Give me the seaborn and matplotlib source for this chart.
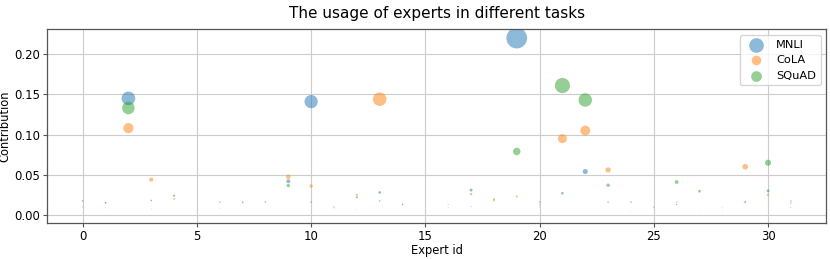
import numpy as np
import matplotlib
matplotlib.use("Agg")
import matplotlib.pyplot as plt
import seaborn as sns

experts = np.arange(32)
tasks = ["MNLI", "CoLA", "SQuAD"]

mnli = np.array([0.010, 0.015, 0.145, 0.0075, 0.005, 0.006, 0.002, 0.016,
                 0.016, 0.042, 0.141, 0.010, 0.022, 0.028, 0.013, 0.002,
                 0.003, 0.031, 0.005, 0.220, 0.016, 0.027, 0.054, 0.016,
                 0.016, 0.010, 0.013, 0.002, 0.006, 0.016, 0.030, 0.015])
cola = np.array([0.003, 0.009, 0.108, 0.044, 0.020, 0.002, 0.008, 0.0155,
                 0.001, 0.0475, 0.036, 0.0085, 0.025, 0.144, 0.002, 0.006,
                 0.013, 0.026, 0.018, 0.023, 0.013, 0.095, 0.105, 0.056,
                 0.004, 0.002, 0.016, 0.006, 0.009, 0.060, 0.025, 0.0175])
squad = np.array([0.0175, 0.0155, 0.133, 0.018, 0.024, 0.001, 0.016, 0.002,
                  0.001, 0.0366, 0.016, 0.010, 0.007, 0.0175, 0.0135, 0.002,
                  0.009, 0.0104, 0.0196, 0.079, 0.010, 0.161, 0.143, 0.037,
                  0.005, 0.009, 0.041, 0.0296, 0.003, 0.016, 0.065, 0.0096])

plt.rcParams["font.family"] = ["DejaVu Sans"]

fig = plt.figure(figsize=(8.3, 2.59), dpi=100)
ax = fig.add_axes([0.057, 0.139, 0.9385, 0.748])

for name, vals in zip(tasks, [mnli, cola, squad]):
    sns.scatterplot(x=experts, y=vals, s=4600 * vals ** 2, alpha=0.5,
                    linewidth=0, label=name, ax=ax)

ax.set_axisbelow(True)
ax.grid(True, color="#cccccc", linewidth=0.8)
for sp in ax.spines.values():
    sp.set_color("#555555")
    sp.set_linewidth(0.9)
ax.tick_params(axis="both", labelsize=8.4, length=3, color="#555555", pad=2)
ax.set_xlabel("Expert id", fontsize=8.3, labelpad=1)
ax.set_ylabel("Contribution", fontsize=8.3, labelpad=2)
ax.set_title("The usage of experts in different tasks", fontsize=11, pad=8)
ax.legend(loc="upper right", fontsize=8.2, frameon=True)

fig.savefig("out.png", dpi=100)
